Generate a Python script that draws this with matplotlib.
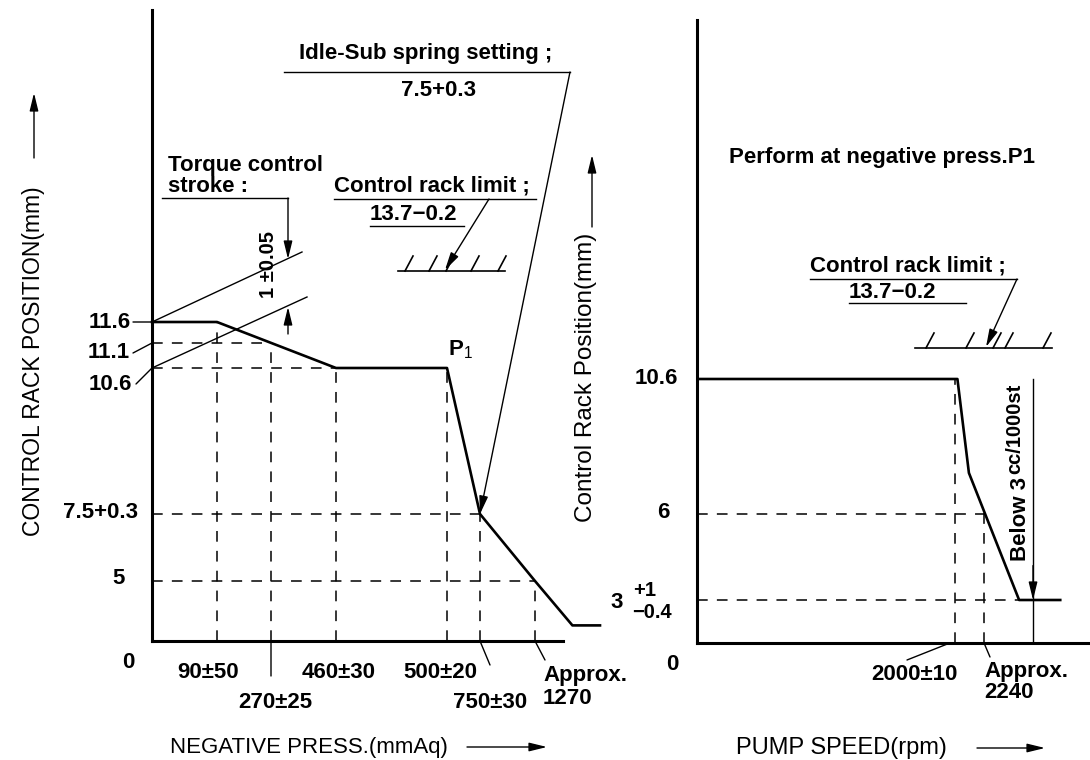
import numpy as np
import matplotlib
matplotlib.use("Agg")
import matplotlib.pyplot as plt
from matplotlib.lines import Line2D
from matplotlib.transforms import Affine2D

W, H = 1090, 760

# ---- left chart: negative press. (mmAq) vs control rack position (mm)
press_ticks = [90, 270, 460, 500, 750, 1270]
press_labels = ["90±50", "270±25", "460±30", "500±20", "750±30", "Approx.\n1270"]
rack_ticks_l = [11.6, 11.1, 10.6, 7.8, 5]
rack_labels_l = ["11.6", "11.1", "10.6", "7.5+0.3", "5"]
curve_press = [0, 90, 460, 500, 750, 1270, 1460, 1600]
curve_rack_l = [11.6, 11.6, 10.6, 10.6, 7.8, 5.0, 1.3, 1.3]
guide_levels_l = [11.1, 10.6, 7.8, 5]
guide_ends_l = [270, 460, 750, 1270]

# ---- right chart: pump speed (rpm)
speed_ticks = [2000, 2240]
speed_labels = ["2000±10", "Approx.\n2240"]
rack_ticks_r = [10.6, 6, 3]
rack_labels_r = ["10.6", "6", "3"]
curve_speed = [0, 2020, 2115, 2530, 2870]
curve_rack_r = [10.6, 10.6, 7.4, 3.0, 3.0]
guide_levels_r = [6, 3]
guide_ends_r = [2247, 2530]
below_speed = 2645

# schematic axes (drawing is not to scale): value -> pixel of the sheet
lx_val = [0, 90, 270, 460, 500, 750, 1270, 1600]
lx_pix = [152, 217, 271, 336, 447, 480, 535, 600]
ly_val = [0, 5, 7.8, 10.6, 11.1, 11.6, 13.7, 20]
ly_pix = [641, 581, 514, 368, 343, 322, 271, 10]
rx_val = [0, 2000, 3116]
rx_pix = [697, 955, 1090]
ry_val = [0, 3, 6, 10.6, 13.7, 20]
ry_pix = [643, 600, 514, 379, 348, 20]

NUM = 16    # size of the numbers
ANN = 16    # size of the notes

plt.rcParams['font.family'] = ['Liberation Sans', 'DejaVu Sans']
plt.rcParams['mathtext.fontset'] = 'custom'
plt.rcParams['mathtext.rm'] = 'Liberation Sans'
plt.rcParams['mathtext.it'] = 'Liberation Sans:italic'
plt.rcParams['mathtext.bf'] = 'Liberation Sans:bold'

fig = plt.figure(figsize=(W / 100, H / 100), dpi=100)
ref = Affine2D().scale(1 / W, -1 / H).translate(0, 1) + fig.transFigure


def piecewise(vals, pix, flip=False):
    pos = [H - p for p in pix] if flip else list(pix)
    return (lambda v: np.interp(v, vals, pos),
            lambda p: np.interp(p, pos, vals))


def make_axes(xv, xp, yv, yp):
    ax = fig.add_axes([xp[0] / W, 1 - yp[0] / H,
                       (xp[-1] - xp[0]) / W, (yp[0] - yp[-1]) / H])
    ax.set_xscale('function', functions=piecewise(xv, xp))
    ax.set_yscale('function', functions=piecewise(yv, yp, True))
    ax.set_xlim(xv[0], xv[-1])
    ax.set_ylim(yv[0], yv[-1])
    ax.patch.set_visible(False)
    ax.set_xticks([])
    ax.set_yticks([])
    for s in ('top', 'right'):
        ax.spines[s].set_visible(False)
    for s in ('left', 'bottom'):
        ax.spines[s].set_linewidth(2.2)
    return ax


def seg(xs, ys, lw=1.0):
    fig.add_artist(Line2D(xs, ys, transform=ref, color='k', lw=lw))


def note(s, x, y, size=ANN, weight='bold', **kw):
    fig.text(x, y, s, transform=ref, fontsize=size, fontweight=weight,
             va=kw.pop('va', 'center'), **kw)


def lead(ax, xy, xytext, head=False, coords='data'):
    style = '-|>,head_length=0.9,head_width=0.22' if head else '-'
    ax.annotate('', xy=xy, xycoords=coords, xytext=xytext, textcoords=ref,
                arrowprops=dict(arrowstyle=style, color='k', lw=1.0,
                                shrinkA=0, shrinkB=0, mutation_scale=12))


def hatch(x0, x1, y, marks):
    seg([x0, x1], [y, y], 1.2)
    for m in marks:
        seg([m, m + 8], [y, y - 15], 1.2)


dash = dict(color='k', lw=1.1, ls=(0, (7, 6)))

# ================= left chart =================
axL = make_axes(lx_val, lx_pix, ly_val, ly_pix)
axL.spines['bottom'].set_bounds(0, 1412)
axL.plot(curve_press, curve_rack_l, color='k', lw=1.9, clip_on=False)
for v in press_ticks:
    axL.plot([v, v], [0, np.interp(v, curve_press, curve_rack_l)], **dash)
for lvl, end in zip(guide_levels_l, guide_ends_l):
    axL.plot([0, end], [lvl, lvl], **dash)

# y labels
ylab_pos_l = [(131, 322), (130, 353), (132, 385), (138, 513), (125, 578)]
for v, s, (tx, ty) in zip(rack_ticks_l, rack_labels_l, ylab_pos_l):
    axL.annotate(s, xy=(0, v), xytext=(tx, ty), textcoords=ref,
                 ha='right', va='center', fontsize=NUM, fontweight='bold')
lead(axL, (0, 11.6), (133, 322))
lead(axL, (0, 11.1), (133, 353))
lead(axL, (0, 10.6), (136, 384))
note("0", 128, 662, size=NUM, ha='center')

# x labels
xlab_pos_l = [(208, 672), (275, 702), (339, 672), (440, 672), (490, 702), (543, 687)]
for v, s, (tx, ty) in zip(press_ticks, press_labels, xlab_pos_l):
    ha = 'left' if '\n' in s else 'center'
    axL.annotate(s, xy=(v, 0), xytext=(tx, ty), textcoords=ref, ha=ha,
                 va='center', fontsize=NUM, fontweight='bold', linespacing=1.12)
lead(axL, (270, 0), (271, 676))
lead(axL, (750, 0), (490, 665))
lead(axL, (1270, 0), (545, 660))

note("P$_1$", 460, 350, ha='center')
note("NEGATIVE PRESS.(mmAq)", 170, 747, size=16, weight='normal')
lead(axL, (547, 747), (467, 747), head=True, coords=ref)
note("CONTROL RACK POSITION(mm)", 34, 361, size=16.5, weight='normal',
     rotation=90, ha='center')
lead(axL, (34, 93), (34, 158), head=True, coords=ref)

# torque control stroke
note("Torque control", 168, 165)
note("stroke :", 168, 186)
seg([162, 288], [198, 198])
seg([152, 302], [322, 252])
seg([152, 307], [368, 297])
lead(axL, (288, 259), (288, 198), head=True, coords=ref)
lead(axL, (288, 307), (288, 334), head=True, coords=ref)
note("1 ±0.05", 268, 264, size=14.5, rotation=90, ha='center')

# idle-sub spring
note("Idle-Sub spring setting ;", 299, 54)
seg([284, 570], [72, 72])
note("7.5+0.3", 439, 90, ha='center')
lead(axL, (750, 7.8), (570, 72), head=True)

# control rack limit
note("Control rack limit ;", 334, 186)
seg([334, 536], [199, 199])
note("13.7−0.2", 370, 214)
seg([370, 464], [226, 226])
lead(axL, (445, 270), (489, 199), head=True, coords=ref)
hatch(398, 505, 271, [405, 429, 446, 471, 498])

# ================= right chart =================
axR = make_axes(rx_val, rx_pix, ry_val, ry_pix)
axR.plot(curve_speed, curve_rack_r, color='k', lw=1.9)
for v in speed_ticks:
    axR.plot([v, v], [0, np.interp(v, curve_speed, curve_rack_r)], **dash)
for lvl, end in zip(guide_levels_r, guide_ends_r):
    axR.plot([0, end], [lvl, lvl], **dash)

ylab_pos_r = [(678, 379), (669, 513), (623, 602)]
for v, s, (tx, ty) in zip(rack_ticks_r, rack_labels_r, ylab_pos_r):
    axR.annotate(s, xy=(0, v), xytext=(tx, ty), textcoords=ref,
                 ha='right', va='center', fontsize=NUM, fontweight='bold')
note("+1", 645, 591, size=14.5, ha='center')
note("−0.4", 652, 613, size=14.5, ha='center')
note("0", 672, 665, size=NUM, ha='center')

xlab_pos_r = [(914, 674), (984, 682)]
for v, s, (tx, ty) in zip(speed_ticks, speed_labels, xlab_pos_r):
    ha = 'left' if '\n' in s else 'center'
    axR.annotate(s, xy=(v, 0), xytext=(tx, ty), textcoords=ref, ha=ha,
                 va='center', fontsize=NUM, fontweight='bold', linespacing=0.97)
lead(axR, (1960, 0), (907, 660))
lead(axR, (2240, 0), (990, 657))

# below 3cc/1000st
axR.plot([below_speed, below_speed], [0, 10.6], color='k', lw=1.0)
axR.annotate('', xy=(below_speed, 3), xytext=(below_speed, 4.2),
             arrowprops=dict(arrowstyle='-|>,head_length=0.9,head_width=0.22',
                             color='k', lw=1.0, shrinkA=0, shrinkB=0,
                             mutation_scale=12))
note("Below 3", 1021, 519, rotation=90, ha='center')
note("cc/1000st", 1015, 429, size=14.5, rotation=90, ha='center')

note("Perform at negative press.P1", 729, 157)
note("Control rack limit ;", 810, 266)
seg([810, 1017], [279, 279])
note("13.7−0.2", 849, 292)
seg([849, 966], [303, 303])
lead(axR, (986, 347), (1017, 279), head=True, coords=ref)
hatch(915, 1052, 348, [926, 966, 993, 1005, 1043])

note("PUMP SPEED(rpm)", 736, 748, size=17, weight='normal')
lead(axR, (1045, 748), (977, 748), head=True, coords=ref)
note("Control Rack Position(mm)", 586, 377, size=17.5, weight='normal',
     rotation=90, ha='center')
lead(axR, (592, 155), (592, 227), head=True, coords=ref)

fig.savefig("out.png", dpi=100)
